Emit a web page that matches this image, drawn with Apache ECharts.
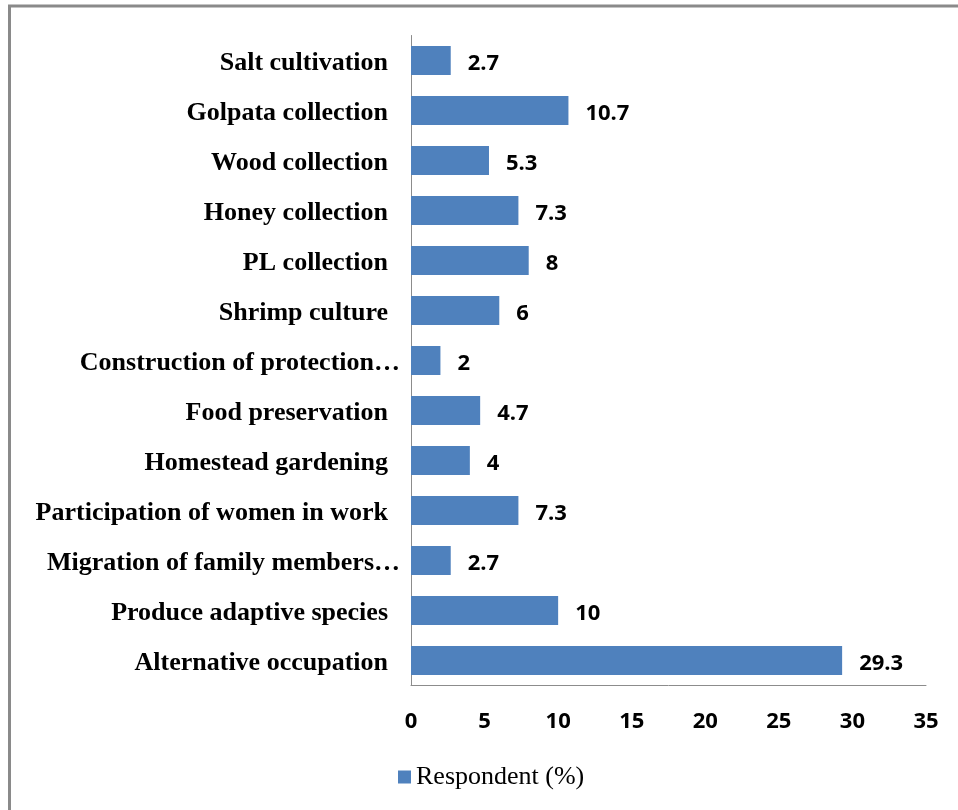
<!DOCTYPE html>
<html>
<head>
<meta charset="utf-8">
<title>Respondent (%)</title>
<script src="https://cdn.jsdelivr.net/npm/echarts@6/dist/echarts.min.js"></script>
<style>
  html, body { margin: 0; padding: 0; background: #fff; }
  #chart { width: 958px; height: 810px; }
</style>
</head>
<body>
<div id="chart"></div>
<script>
// Adaptation strategies, listed bottom to top as they appear on the category axis
const categories = [
  'Alternative occupation',
  'Produce adaptive species',
  'Migration of family members\u2026',
  'Participation of women in work',
  'Homestead gardening',
  'Food preservation',
  'Construction of protection\u2026',
  'Shrimp culture',
  'PL collection',
  'Honey collection',
  'Wood collection',
  'Golpata collection',
  'Salt cultivation'
];
const respondentPct = [29.3, 10, 2.7, 7.3, 4, 4.7, 2, 6, 8, 7.3, 5.3, 10.7, 2.7];
const xTicks = [0, 5, 10, 15, 20, 25, 30, 35];
const seriesName = 'Respondent (%)';

// Truncated names run closer to the axis line; the others keep a small gap before it.
function categoryLabel(name) {
  if (name.endsWith('\u2026')) {
    return '{n|' + name + '}';
  }
  return '{n|' + name + '}{s| }';
}

const labelFont = { fontFamily: 'Liberation Serif', fontWeight: 'bold', fontSize: 26, color: '#000' };

const chart = echarts.init(document.getElementById('chart'), null, { renderer: 'canvas' });

chart.setOption({
  animation: false,
  backgroundColor: '#ffffff',
  graphic: [{
    type: 'rect',
    shape: { x: 9.5, y: 6, width: 1000, height: 900 },
    style: { fill: 'none', stroke: '#8a8a8a', lineWidth: 3 },
    silent: true
  }],
  grid: { left: 411, right: 32, top: 35.5, height: 650, containLabel: false },
  legend: {
    left: 393,
    top: 759,
    itemWidth: 13,
    itemHeight: 13,
    itemGap: 10,
    icon: 'rect',
    textStyle: { fontFamily: 'Liberation Serif', fontSize: 26, color: '#000' },
    data: [seriesName]
  },
  xAxis: {
    type: 'value',
    min: xTicks[0],
    max: xTicks[xTicks.length - 1],
    interval: 5,
    axisLine: { show: true, lineStyle: { color: '#8c8c8c', width: 1 } },
    axisTick: { show: false },
    splitLine: { show: false },
    axisLabel: {
      margin: 25,
      fontFamily: 'Open Sans',
      fontWeight: 'bold',
      fontSize: 22,
      color: '#000'
    }
  },
  yAxis: {
    type: 'category',
    data: categories,
    axisLine: { show: true, lineStyle: { color: '#8c8c8c', width: 1 } },
    axisTick: { show: false },
    splitLine: { show: false },
    axisLabel: {
      margin: 11,
      formatter: categoryLabel,
      rich: {
        n: Object.assign({ padding: [5, 0, 0, 0] }, labelFont),
        s: Object.assign({ width: 12 }, labelFont)
      }
    }
  },
  series: [{
    name: seriesName,
    type: 'bar',
    data: respondentPct,
    barWidth: 29,
    itemStyle: { color: '#4F81BD' },
    label: {
      show: true,
      position: 'right',
      distance: 17,
      offset: [0, 3],
      fontFamily: 'Open Sans',
      fontWeight: 'bold',
      fontSize: 22,
      color: '#000'
    }
  }]
});
</script>
</body>
</html>
